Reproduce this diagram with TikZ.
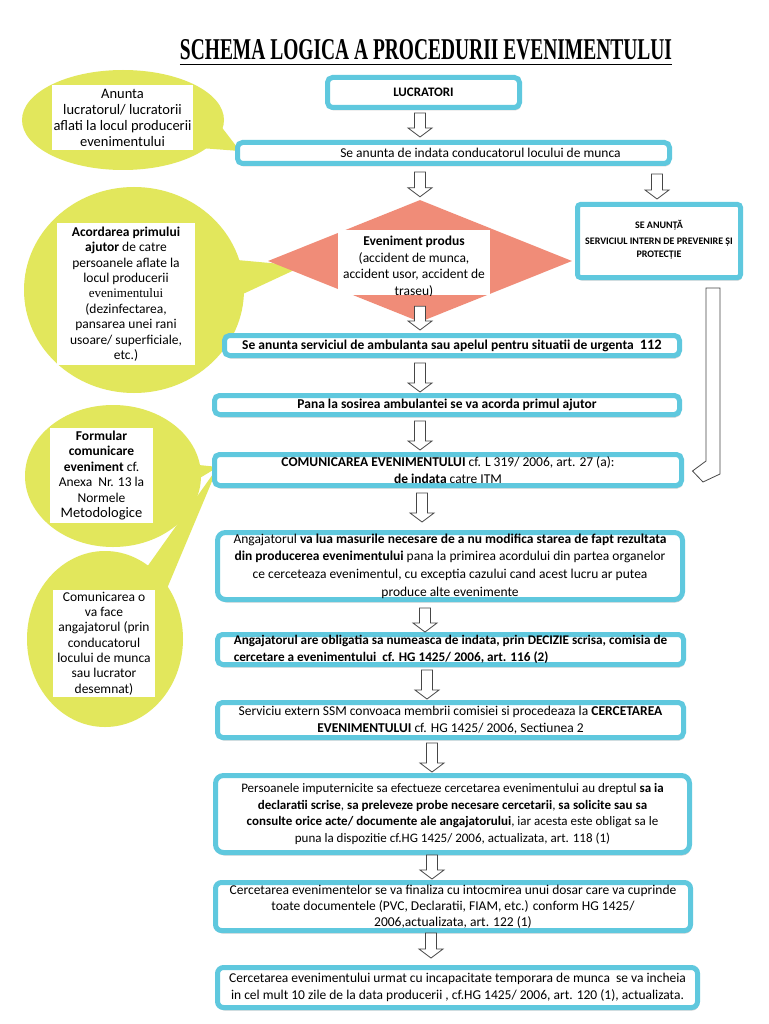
\documentclass[tikz,border=0pt]{standalone}
\usepackage{fontspec}
\usepackage{graphicx}
\setmainfont{Carlito}
\newfontfamily\titlefont{Liberation Serif}
\newfontfamily\serifr{Liberation Serif}
\usetikzlibrary{shapes.geometric,calc,shadows}
\definecolor{cyanb}{RGB}{95,200,222}
\definecolor{yel}{RGB}{226,231,92}
\definecolor{salm}{RGB}{240,140,120}
\definecolor{arrgray}{RGB}{70,70,70}
\tikzset{
  fbox/.style={draw=cyanb, line width=5pt, rounded corners=5pt, fill=white, inner sep=0pt,
    drop shadow={shadow xshift=1pt, shadow yshift=-3pt, opacity=0.18, fill=black},
    align=center, font=\fontsize{13.5}{17}\selectfont},
  harr/.style={draw=arrgray, line width=0.8pt, fill=white, line join=miter},
  tbox/.style={fill=white, inner sep=0pt, align=center},
  bubble/.style={ellipse, fill=yel, inner sep=0pt},
  wedge/.style={fill=yel},
}
\newcommand\blockarrowp[3]{%
  \draw[harr] let \p1=(#2), \p2=(#3) in
    (#1pt-5.5pt,\y1) -- (#1pt+5.5pt,\y1) -- (#1pt+5.5pt,\y2+9pt) -- (#1pt+12pt,\y2+9pt)
    -- (#1pt,\y2) -- (#1pt-12pt,\y2+9pt) -- (#1pt-5.5pt,\y2+9pt) -- cycle;}
\newcommand\blockarrow[3]{\blockarrowp{#1}{$(#2.south)+(0,3)$}{$(#3.north)+(0,-3)$}}
\begin{document}
\begin{tikzpicture}[x=1pt,y=-1pt]
\useasboundingbox (0,0) rectangle (768,1024);
\fill[white] (0,0) rectangle (768,1024);

% title
\node[inner sep=0pt] (title) at (426,50)
  {\resizebox{492pt}{20pt}{\titlefont\bfseries SCHEMA LOGICA A PROCEDURII EVENIMENTULUI}};
\draw[line width=1.2pt] ([yshift=-4pt]title.south west) -- ([yshift=-4pt]title.south east);

% callout 1
\node[bubble, minimum width=202, minimum height=100] (b1) at (123,120) {};
\fill[wedge] (200,148) -- (240,151) -- (220,125) -- cycle;
\node[tbox, minimum width=141, minimum height=65, font=\fontsize{14.5}{16}\selectfont] (c1) at (122.5,117.5)
  {Anunta\\lucratorul/ lucratorii\\aflati la locul producerii\\evenimentului};

% callout 2
\node[bubble, minimum width=220, minimum height=206] (b2) at (134,290) {};
\fill[wedge] (215,258) -- (303,266) -- (230,300) -- cycle;
\node[tbox, minimum width=138, minimum height=142, font=\fontsize{13.5}{15.4}\selectfont] (c2) at (126,294)
  {\textbf{Acordarea primului}\\\textbf{ajutor} de catre\\persoanele aflate la\\locul producerii\\{\serifr\fontsize{13}{15.4}\selectfont evenimentului}\\(dezinfectarea,\\pansarea unei rani\\usoare/ superficiale,\\etc.)};

% callout 3
\node[bubble, minimum width=176, minimum height=142] (b3) at (113,476) {};
\fill[wedge] (170,462) -- (218,467) -- (180,490) -- cycle;
\node[tbox, minimum width=103, minimum height=95, font=\fontsize{13.5}{15.5}\selectfont] (c3) at (101.5,475.5)
  {\textbf{Formular}\\\textbf{comunicare}\\\textbf{eveniment} cf.\\Anexa\ \ Nr. 13 la\\Normele\\{\fontsize{14.5}{15.5}\selectfont Metodologice}};

% callout 4
\node[bubble, minimum width=156, minimum height=176] (b4) at (105,639) {};
\fill[wedge] (142,574) -- (218,467) -- (163,598) -- cycle;
\node[tbox, minimum width=102, minimum height=107, font=\fontsize{13.5}{15.3}\selectfont] (c4) at (104,643.5)
  {Comunicarea o\\va face\\angajatorul (prin\\conducatorul\\locului de munca\\sau lucrator\\desemnat)};

% flow boxes
\node[fbox, minimum width=192, minimum height=30, font=\fontsize{13}{14}\selectfont\bfseries] (lucr) at (423.5,92.5) {LUCRATORI};
\node[fbox, minimum width=432, minimum height=21, font=\fontsize{13.5}{14}\selectfont] (anunta) at (453.5,153)
  {\hspace*{54pt}Se anunta de indata conducatorul locului de munca};

\node[diamond, fill=salm, minimum width=304, minimum height=122, inner sep=0pt] (ev) at (420,261) {};
\node[fill=white, minimum width=152, minimum height=65, inner sep=0pt] (evbox) at (414,262.5) {};
\begin{scope}
  \clip (evbox.south west) rectangle (evbox.north east);
  \node[align=center, inner sep=0pt, anchor=north, font=\fontsize{13.5}{16.5}\selectfont] (evtxt) at (414,236)
    {\textbf{Eveniment produs}\\(accident de munca,\\accident usor, accident de\\traseu)};
\end{scope}

\node[fbox, rounded corners=3pt, minimum width=163, minimum height=73] (spip) at (659,241) {};
\node[align=center, inner sep=0pt, anchor=north, font=\fontsize{10}{13}\selectfont\bfseries] (spiptxt) at (659,220)
  {SE ANUNȚĂ\\[3pt]SERVICIUL INTERN DE PREVENIRE ȘI\\PROTECȚIE};

\node[fbox, minimum width=455, minimum height=20, font=\fontsize{13.5}{14}\selectfont\bfseries] (amb) at (452,345.5)
  {Se anunta serviciul de ambulanta sau apelul pentru situatii de urgenta\ \ {\fontsize{14.5}{14}\selectfont 112}};
\node[fbox, minimum width=465, minimum height=19, font=\fontsize{13.5}{14}\selectfont\bfseries] (pana) at (447,405)
  {Pana la sosirea ambulantei se va acorda primul ajutor};
\node[fbox, minimum width=467, minimum height=31] (comun) at (448,470)
  {\textbf{COMUNICAREA EVENIMENTULUI} cf. L 319/ 2006, art. 27 (a):\\\textbf{de indata} catre ITM};
\node[fbox, rounded corners=8pt, minimum width=465, minimum height=67, font=\fontsize{13.5}{17.7}\selectfont] (ang1) at (450,566)
  {Angajatorul \textbf{va lua masurile necesare de a nu modifica starea de fapt rezultata}\\
   \textbf{din producerea evenimentului} pana la primirea acordului din partea organelor\\
   ce cerceteaza evenimentul, cu exceptia cazului cand acest lucru ar putea\\
   produce alte evenimente};
\node[fbox, minimum width=466, minimum height=30, align=left, font=\fontsize{13.2}{17}\selectfont\bfseries] (ang2) at (450.5,649.5)
  {Angajatorul are obligatia sa numeasca de indata, prin DECIZIE scrisa, comisia de\\
   cercetare a evenimentului\ \ cf. HG 1425/ 2006, art. 116 (2)};
\node[fbox, minimum width=466, minimum height=35, font=\fontsize{13.5}{17}\selectfont] (serv) at (450.5,720)
  {Serviciu extern SSM convoaca membrii comisiei si procedeaza la \textbf{CERCETAREA}\\
   \textbf{EVENIMENTULUI} cf. HG 1425/ 2006, Sectiunea 2};
\node[fbox, rounded corners=8pt, minimum width=474, minimum height=77, font=\fontsize{13}{16.5}\selectfont] (pers) at (452.5,814)
  {Persoanele imputernicite sa efectueze cercetarea evenimentului au dreptul \textbf{sa ia}\\
   \textbf{declaratii scrise}, \textbf{sa preleveze probe necesare cercetarii}, \textbf{sa solicite sau sa}\\
   \textbf{consulte orice acte/ documente ale angajatorului}, iar acesta este obligat sa le\\
   puna la dispozitie cf.HG 1425/ 2006, actualizata, art. 118 (1)};
\node[fbox, rounded corners=6pt, minimum width=475, minimum height=48, font=\fontsize{13.5}{16}\selectfont] (cerc) at (453,906.5)
  {Cercetarea evenimentelor se va finaliza cu intocmirea unui dosar care va cuprinde\\
   toate documentele (PVC, Declaratii, FIAM, etc.) conform HG 1425/\\
   2006,actualizata, art. 122 (1)};
\node[fbox, rounded corners=6pt, minimum width=480, minimum height=40, font=\fontsize{13.5}{17.5}\selectfont] (last) at (457.5,987.5)
  {Cercetarea evenimentului urmat cu incapacitate temporara de munca\ \ se va incheia\\
   in cel mult 10 zile de la data producerii , cf.HG 1425/ 2006, art. 120 (1), actualizata.};

% block arrows
\blockarrow{420}{lucr}{anunta}
\blockarrowp{420}{$(anunta.south)+(0,6)$}{$(ev.north)+(0,-3)$}
\blockarrowp{657}{$(anunta.south)+(0,8)$}{$(spip.north)+(0,-3)$}
\coordinate (evs) at ($(ev.south)+(0,-16)$);
\blockarrowp{420}{evs}{$(amb.north)+(0,-3)$}
\blockarrowp{420}{$(amb.south)+(0,5)$}{$(pana.north)+(0,-1)$}
\blockarrowp{420}{$(pana.south)+(0,4)$}{$(comun.north)+(0,-2)$}
\blockarrowp{422}{$(comun.south)+(0,5)$}{$(ang1.north)+(0,-8)$}
\blockarrowp{425}{$(ang1.south)+(0,6)$}{$(ang2.north)+(0,0)$}
\blockarrowp{427}{$(ang2.south)+(0,3)$}{$(serv.north)+(0,-1)$}
\blockarrowp{432}{$(serv.south)+(0,3)$}{$(pers.north)+(0,-1)$}
\blockarrowp{432}{$(pers.south)+(0,0)$}{$(cerc.north)+(0,-1)$}
\blockarrowp{431}{$(cerc.south)+(0,0)$}{$(last.north)+(0,-7)$}

% long bent arrow from SPIP to COMUNICAREA
\coordinate (la0) at ($(spip.south)+(47,8)$);
\coordinate (la1) at ($(comun.east)+(8.5,1)$);
\draw[harr] (la0) -- ++(14,0) -- (720,474) -- (703,482) -- (la1) -- (706,461) -- cycle;
\end{tikzpicture}
\end{document}
